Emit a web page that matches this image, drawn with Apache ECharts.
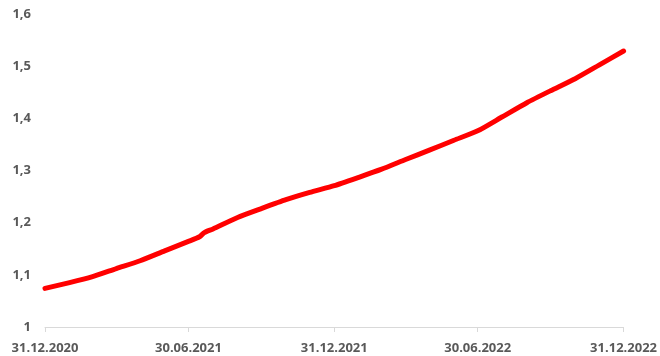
<!DOCTYPE html>
<html>
<head>
<meta charset="utf-8">
<script src="https://cdn.jsdelivr.net/npm/echarts@6/dist/echarts.min.js"></script>
<style>
  html, body { margin: 0; padding: 0; background: #ffffff; }
  #chart { width: 660px; height: 356px; }
</style>
</head>
<body>
<div id="chart"></div>
<script>
// Observation dates (month ends, plus a mid-July 2021 step)
const dates = [
  '2020-12-31',
  '2021-01-31', '2021-02-28', '2021-03-31', '2021-04-30', '2021-05-31', '2021-06-30',
  '2021-07-14', '2021-07-20',
  '2021-07-31', '2021-08-31', '2021-09-30', '2021-10-31', '2021-11-30', '2021-12-31',
  '2022-01-31', '2022-02-28', '2022-03-31', '2022-04-30', '2022-05-31', '2022-06-30',
  '2022-07-31', '2022-08-31', '2022-09-30', '2022-10-31', '2022-11-30', '2022-12-31'
];

// Index level on each date
const values = [
  1.074,
  1.085, 1.096, 1.112, 1.127, 1.146, 1.164,
  1.173, 1.181,
  1.188, 1.210, 1.227, 1.244, 1.258, 1.271,
  1.287, 1.302, 1.321, 1.339, 1.358, 1.376,
  1.403, 1.430, 1.453, 1.476, 1.502, 1.529
];

// Dates marked on the horizontal axis
const tickDates = ['2020-12-31', '2021-06-30', '2021-12-31', '2022-06-30', '2022-12-31'];

const yMin = 1, yMax = 1.6, yStep = 0.1;

// Horizontal positions are days elapsed since the first date
const DAY = 86400000;
const toTs = s => new Date(s + 'T00:00:00Z').getTime();
const t0 = toTs(dates[0]);
const toDay = s => Math.round((toTs(s) - t0) / DAY);
const pad = n => (n < 10 ? '0' : '') + n;
const fmtDay = d => {
  const dt = new Date(t0 + d * DAY);
  return pad(dt.getUTCDate()) + '.' + pad(dt.getUTCMonth() + 1) + '.' + dt.getUTCFullYear();
};
const tickDays = tickDates.map(toDay);

const chart = echarts.init(document.getElementById('chart'));
chart.setOption({
  animation: false,
  backgroundColor: '#ffffff',
  grid: { left: 45, right: 35, top: 14, bottom: 29 },
  xAxis: {
    type: 'value',
    min: tickDays[0],
    max: tickDays[tickDays.length - 1],
    axisLine: { show: true, lineStyle: { color: '#d9d9d9', width: 1 } },
    axisTick: {
      show: true,
      customValues: tickDays,
      length: 5,
      lineStyle: { color: '#d9d9d9' }
    },
    axisLabel: {
      customValues: tickDays,
      margin: 15,
      color: '#595959',
      fontFamily: 'Open Sans',
      fontWeight: 'bold',
      fontSize: 13,
      formatter: v => fmtDay(v)
    },
    splitLine: { show: false }
  },
  yAxis: {
    type: 'value',
    min: yMin,
    max: yMax,
    interval: yStep,
    axisLine: { show: false },
    axisTick: { show: false },
    splitLine: { show: false },
    axisLabel: {
      margin: 14,
      color: '#595959',
      fontFamily: 'Open Sans',
      fontWeight: 'bold',
      fontSize: 13,
      formatter: v => String(Number(v.toFixed(1))).replace('.', ',')
    }
  },
  series: [{
    type: 'line',
    data: dates.map((d, i) => [toDay(d), values[i]]),
    showSymbol: false,
    smooth: 0.2,
    lineStyle: { color: '#ff0000', width: 5, cap: 'round', join: 'round' },
    itemStyle: { color: '#ff0000' }
  }]
});
</script>
</body>
</html>
